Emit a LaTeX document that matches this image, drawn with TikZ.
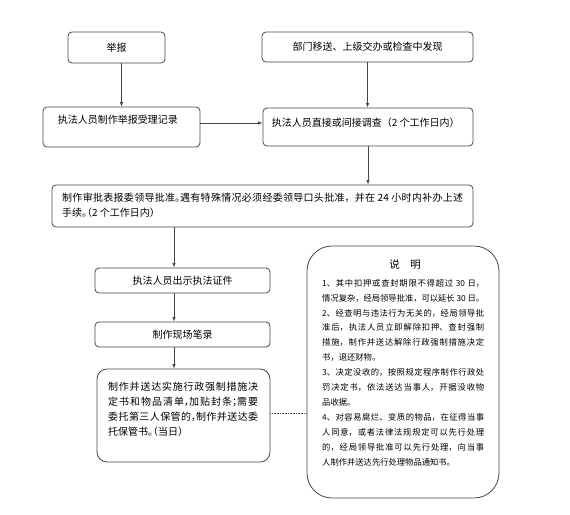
\documentclass[tikz,border=0pt]{standalone}
\usepackage{fontspec}
\setmainfont{Noto Sans CJK SC}
\newfontfamily\halfpunct[RawFeature=+halt]{Noto Sans CJK SC}
\usetikzlibrary{arrows.meta}
\XeTeXlinebreaklocale "zh"
\XeTeXlinebreakskip=0pt plus 1pt minus 0.2pt
\definecolor{linec}{HTML}{474747}
\begin{document}
\begin{tikzpicture}[x=1pt,y=-1pt,
  box/.style={draw=linec,line width=0.8pt,rounded corners=4pt,inner sep=0pt},
  arr/.style={draw=linec,line width=0.8pt,-{Latex[length=4.5pt,width=3.5pt]}},
  txt/.style={inner sep=0pt,font=\fontsize{10pt}{15pt}\selectfont},
  note/.style={inner sep=0pt,font=\fontsize{8.3pt}{14.9pt}\selectfont}]
\path[use as bounding box,fill=white] (0,0) rectangle (570,514);

% boxes
\node[box,txt,minimum width=97pt,minimum height=31pt] (A) at (116.5,47.5) {举报};
\node[box,txt,minimum width=211pt,minimum height=30pt] (B) at (367.5,47) {部门移送、上级交办或检查中发现};
\node[box,minimum width=157pt,minimum height=40pt] (C) at (121.5,127) {};
\node[txt,anchor=west] (Ct) at ([xshift=15pt,yshift=-13pt]C.north west) {执法人员制作举报受理记录};
\node[box,minimum width=210pt,minimum height=38pt] (D) at (368,127) {};
\node[txt,anchor=west] (Dt) at ([xshift=9pt,yshift=-15pt]D.north west) {执法人员直接或间接调查（2 个工作日内）};
\node[box,minimum width=421pt,minimum height=42pt] (E) at (262.5,206) {};
\node[txt,anchor=west,text width=401pt,align=justify] (Et) at (62,205.5)
  {制作审批表报委领导批准{\halfpunct 。}遇有特殊情况必须经委领导口头批准，并在 24 小时内补办上述\linebreak 手续{\halfpunct 。（}2 个工作日内{\halfpunct ）}};
\node[box,txt,minimum width=175pt,minimum height=25pt] (F) at (182.5,280.5) {执法人员出示执法证件};
\node[box,txt,minimum width=175pt,minimum height=25pt] (H) at (182.5,334.5) {制作现场笔录};
\node[box,rounded corners=10pt,minimum width=173pt,minimum height=93pt] (G) at (183.5,415.5) {};
\node[txt,anchor=west,text width=150pt,align=justify] (Gt) at (108,409)
  {制作并送达实施行政强制措施决\linebreak 定书和物品清单{\halfpunct ，}加贴封条{\halfpunct ；}需要\linebreak 委托第三人保管的{\halfpunct ，}制作并送达委\linebreak 托保管书{\halfpunct 。（}当日{\halfpunct ）}};
\node[box,rounded corners=25pt,minimum width=192pt,minimum height=252pt] (N) at (403,372) {};
\node[inner sep=0pt,font=\fontsize{10.5pt}{12pt}\selectfont] (Nt) at (405,265) {说　明};
\node[note,anchor=west,text width=162pt,align=justify] (Nb) at (322,372.5)
  {1、其中扣押或查封期限不得超过 30 日，\linebreak
   情况复杂，经局领导批准，可以延长 30 日。\linebreak
   2、经查明与违法行为无关的，经局领导批\linebreak
   准后，执法人员立即解除扣押、查封强制\linebreak
   措施，制作并送达解除行政强制措施决定\linebreak
   书，退还财物。\\
   3、决定没收的，按照规定程序制作行政处\linebreak
   罚决定书，依法送达当事人，开据没收物\linebreak
   品收据。\\
   4、对容易腐烂、变质的物品，在征得当事\linebreak
   人同意，或者法律法规规定可以先行处理\linebreak
   的，经局领导批准可以先行处理，向当事\linebreak
   人制作并送达先行处理物品通知书。};

% connectors
\draw[arr] (C.north |- A.south) -- (C.north);
\draw[arr] (B.south) -- (B.south |- D.north);
\draw[arr] ([yshift=4pt]C.east) -- ([yshift=4pt]C.east -| D.west);
\draw[arr] (D.south) -- (D.south |- E.north);
\draw[arr] ([xshift=-8.5pt]F.north |- E.south) -- ([xshift=-8.5pt]F.north);
\draw[arr] ([xshift=-8.5pt]F.south) -- ([xshift=-8.5pt]H.north);
\draw[arr] ([xshift=-8.5pt]H.south) -- ([xshift=-8.5pt]H.south |- G.north);
\draw[linec,line width=0.6pt,densely dotted] ([yshift=2.5pt]G.east) -- ([yshift=2.5pt]G.east -| N.west);
\end{tikzpicture}
\end{document}
